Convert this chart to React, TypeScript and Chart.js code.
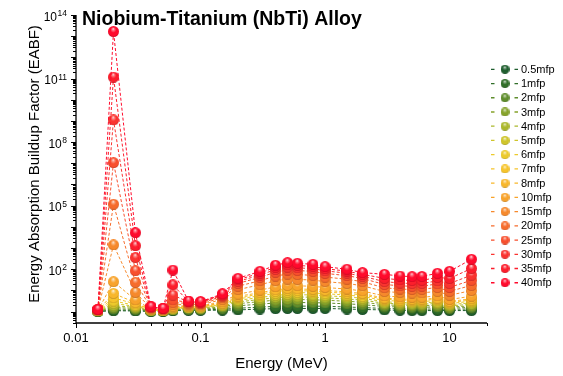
import React, { useEffect, useRef } from 'react';
import { Chart, registerables } from 'chart.js';

Chart.register(...registerables);

const WIDTH = 563;
const HEIGHT = 376;
const FONT = "'Liberation Sans', Arial, sans-serif";

// Photon energies (MeV)
const energies = [0.015, 0.02, 0.03, 0.04, 0.05, 0.06, 0.08, 0.1, 0.15, 0.2, 0.3, 0.4, 0.5, 0.6, 0.8, 1, 1.5, 2, 3, 4, 5, 6, 8, 10, 15];

const seriesNames = ['0.5mfp', '1mfp', '2mfp', '3mfp', '4mfp', '5mfp', '6mfp', '7mfp', '8mfp', '10mfp', '15mfp', '20mfp', '25mfp', '30mfp', '35mfp', '40mfp'];

const seriesColors = [
  '#1f5e2e', '#316e29', '#5f8d2c', '#86a32b', '#abb82c', '#cfc52b', '#ecca2c', '#f6c42b',
  '#f8b72b', '#f8a32b', '#f6892c', '#f66c2c', '#f84f2d', '#fa3430', '#fc1e2c', '#ff0a2c',
];

// Energy absorption buildup factors, one array per penetration depth
const eabf0_5 = [1.02, 1.10, 1.07, 1.02, 1.02, 1.10, 1.15, 1.15, 1.17, 1.20, 1.32, 1.38, 1.41, 1.41, 1.41, 1.41, 1.32, 1.26, 1.20, 1.15, 1.12, 1.12, 1.12, 1.12, 1.12];
const eabf1 = [1.03, 1.17, 1.15, 1.05, 1.04, 1.15, 1.21, 1.20, 1.29, 1.44, 1.63, 1.77, 1.83, 1.82, 1.81, 1.79, 1.65, 1.55, 1.41, 1.34, 1.31, 1.31, 1.32, 1.28, 1.33];
const eabf2 = [1.05, 1.35, 1.26, 1.09, 1.07, 1.20, 1.31, 1.30, 1.48, 1.88, 2.25, 2.56, 2.71, 2.69, 2.64, 2.56, 2.32, 2.13, 1.74, 1.64, 1.60, 1.61, 1.66, 1.45, 1.57];
const eabf3 = [1.07, 1.58, 1.41, 1.13, 1.09, 1.26, 1.40, 1.38, 1.67, 2.37, 2.96, 3.50, 3.77, 3.72, 3.63, 3.45, 3.09, 2.77, 2.10, 1.96, 1.91, 1.92, 2.01, 1.65, 1.85];
const eabf4 = [1.08, 1.90, 1.58, 1.16, 1.11, 1.32, 1.49, 1.46, 1.85, 2.87, 3.73, 4.58, 5.00, 4.91, 4.76, 4.47, 3.96, 3.48, 2.48, 2.31, 2.23, 2.25, 2.39, 1.87, 2.19];
const eabf5 = [1.09, 2.40, 1.78, 1.19, 1.13, 1.38, 1.56, 1.53, 2.02, 3.42, 4.60, 5.82, 6.44, 6.31, 6.08, 5.64, 4.93, 4.28, 2.90, 2.69, 2.60, 2.62, 2.82, 2.13, 2.59];
const eabf6 = [1.10, 3.16, 2.00, 1.22, 1.15, 1.45, 1.64, 1.60, 2.19, 4.02, 5.58, 7.28, 8.13, 7.94, 7.62, 6.97, 6.05, 5.15, 3.37, 3.10, 2.99, 3.01, 3.30, 2.42, 3.06];
const eabf7 = [1.11, 4.47, 2.29, 1.25, 1.16, 1.51, 1.71, 1.67, 2.36, 4.65, 6.62, 8.87, 10.0, 9.75, 9.33, 8.43, 7.26, 6.11, 3.84, 3.52, 3.39, 3.41, 3.78, 2.69, 3.52];
const eabf8 = [1.12, 7.24, 2.63, 1.27, 1.17, 1.58, 1.78, 1.73, 2.53, 5.30, 7.74, 10.6, 12.1, 11.7, 11.2, 10.0, 8.55, 7.11, 4.32, 3.94, 3.80, 3.83, 4.30, 2.99, 4.05];
const eabf10 = [1.14, 25.7, 3.55, 1.32, 1.20, 1.74, 1.91, 1.85, 2.86, 6.73, 10.3, 14.8, 17.1, 16.6, 15.6, 13.8, 11.6, 9.40, 5.46, 4.93, 4.74, 4.78, 5.47, 3.70, 5.35];
const eabf15 = [1.17, 1410, 8.13, 1.42, 1.26, 2.09, 2.20, 2.11, 3.67, 10.9, 18.4, 28.7, 34.6, 33.1, 30.7, 26.1, 21.3, 16.6, 8.89, 7.91, 7.53, 7.60, 9.12, 5.92, 9.86];
const eabf20 = [1.20, 1.17e5, 24.0, 1.50, 1.30, 2.63, 2.45, 2.33, 4.45, 15.8, 28.6, 47.9, 59.2, 56.2, 51.5, 42.6, 34.0, 25.5, 13.3, 11.6, 11.1, 11.2, 13.9, 9.06, 17.2];
const eabf25 = [1.22, 1.07e7, 85.1, 1.57, 1.34, 3.55, 2.69, 2.54, 5.21, 21.5, 41.2, 72.8, 92.0, 86.9, 78.9, 63.8, 50.0, 36.5, 19.1, 16.5, 15.6, 15.8, 20.3, 13.9, 30.1];
const eabf30 = [1.23, 1.12e9, 355, 1.61, 1.37, 6.03, 2.86, 2.69, 5.81, 26.4, 53.0, 97.0, 125, 117, 106, 84.1, 65.2, 46.6, 26.1, 22.4, 21.1, 21.4, 28.2, 21.2, 52.5];
const eabf35 = [1.25, 1.17e11, 1290, 1.66, 1.39, 18.2, 3.01, 2.82, 6.37, 31.6, 65.5, 124, 161, 151, 136, 106, 81.7, 57.3, 37.2, 31.4, 29.4, 29.9, 40.8, 36.9, 108];
const eabf40 = [1.26, 1.66e13, 5250, 1.70, 1.41, 91.2, 3.16, 2.95, 6.92, 37.2, 79.4, 155, 204, 191, 170, 132, 100, 69.2, 57.5, 47.9, 44.7, 45.7, 64.6, 79.4, 295];

const seriesValues = [eabf0_5, eabf1, eabf2, eabf3, eabf4, eabf5, eabf6, eabf7, eabf8, eabf10, eabf15, eabf20, eabf25, eabf30, eabf35, eabf40];

const xTickValues = [0.01, 0.1, 1, 10];
const xTickLabels = ['0.01', '0.1', '1', '10'];
const yLabelExponents = [2, 5, 8, 11, 14];

const X_MIN = 0.01;
const X_MAX = 20;
const Y_MIN = 0.29;
const Y_MAX = 1e14;

function mix(hex: string, target: number, t: number): string {
  const n = parseInt(hex.slice(1), 16);
  const r = (n >> 16) & 255;
  const g = (n >> 8) & 255;
  const b = n & 255;
  const f = (v: number) => Math.round(v + (target - v) * t);
  return `rgb(${f(r)},${f(g)},${f(b)})`;
}

// Glossy ball used as the marker of each series
function makeSphere(color: string, d: number): HTMLCanvasElement {
  const c = document.createElement('canvas');
  c.width = d;
  c.height = d;
  const g = c.getContext('2d')!;
  const r = d / 2;
  const grad = g.createRadialGradient(r * 0.95, r * 0.5, 0, r, r * 0.9, r * 1.05);
  grad.addColorStop(0, mix(color, 255, 0.9));
  grad.addColorStop(0.22, mix(color, 255, 0.4));
  grad.addColorStop(0.5, color);
  grad.addColorStop(0.85, color);
  grad.addColorStop(1, mix(color, 0, 0.18));
  g.fillStyle = grad;
  g.beginPath();
  g.arc(r, r, r, 0, Math.PI * 2);
  g.fill();
  return c;
}

let legendSpheres: HTMLCanvasElement[] = [];

const decorations = {
  id: 'decorations',
  afterDatasetsDraw(chart: any) {
    const { ctx, chartArea: a, scales } = chart;
    const xs = scales.x;
    const ys = scales.y;
    ctx.save();
    ctx.strokeStyle = '#000';
    ctx.fillStyle = '#000';
    ctx.lineWidth = 1.3;

    // axis lines
    ctx.beginPath();
    ctx.moveTo(a.left, a.top);
    ctx.lineTo(a.left, a.bottom);
    ctx.lineTo(a.right, a.bottom);
    ctx.stroke();

    // y ticks (decades + minor)
    ctx.lineWidth = 1;
    for (let k = -1; k <= 14; k++) {
      for (let m = 1; m <= 9; m++) {
        const v = m * Math.pow(10, k);
        if (v < Y_MIN * 0.999 || v > Y_MAX * 1.001) continue;
        const py = Math.round(ys.getPixelForValue(v)) + 0.5;
        const len = m === 1 ? 5 : 3;
        ctx.beginPath();
        ctx.moveTo(a.left, py);
        ctx.lineTo(a.left - len, py);
        ctx.stroke();
      }
    }
    // x ticks
    for (let k = -2; k <= 1; k++) {
      for (let m = 1; m <= 9; m++) {
        const v = m * Math.pow(10, k);
        if (v < X_MIN * 0.999 || v > X_MAX * 1.001) continue;
        const px = Math.round(xs.getPixelForValue(v)) + 0.5;
        const len = m === 1 ? 5 : 3;
        ctx.beginPath();
        ctx.moveTo(px, a.bottom);
        ctx.lineTo(px, a.bottom + len);
        ctx.stroke();
      }
    }

    // x tick labels
    ctx.font = `13px ${FONT}`;
    ctx.textAlign = 'center';
    ctx.textBaseline = 'alphabetic';
    xTickValues.forEach((v, i) => {
      ctx.fillText(xTickLabels[i], xs.getPixelForValue(v), a.bottom + 19);
    });

    // y tick labels as 10 with superscript exponent
    yLabelExponents.forEach((e) => {
      const py = ys.getPixelForValue(Math.pow(10, e));
      const exp = String(e);
      ctx.font = `8.5px ${FONT}`;
      const ew = ctx.measureText(exp).width;
      const ex = a.left - 9 - ew;
      ctx.textAlign = 'left';
      ctx.fillText(exp, ex, py + 1);
      ctx.font = `12px ${FONT}`;
      ctx.textAlign = 'right';
      ctx.fillText('10', ex - 0.5, py + 5.5);
    });

    // axis titles
    ctx.font = `15px ${FONT}`;
    ctx.textAlign = 'center';
    ctx.fillText('Energy (MeV)', (a.left + a.right) / 2, 368);
    ctx.save();
    ctx.translate(39, 164);
    ctx.rotate(-Math.PI / 2);
    ctx.fillText('Energy Absorption Buildup Factor (EABF)', 0, 0);
    ctx.restore();

    // chart title
    ctx.font = `bold 19.5px ${FONT}`;
    ctx.textAlign = 'left';
    ctx.fillText('Niobium-Titanium (NbTi) Alloy', 82, 25);

    // legend
    ctx.font = `11px ${FONT}`;
    ctx.textBaseline = 'middle';
    seriesNames.forEach((name, i) => {
      const y = 69.3 + i * 14.23;
      const col = seriesColors[i];
      ctx.strokeStyle = col;
      ctx.lineWidth = 1.3;
      ctx.beginPath();
      ctx.moveTo(491, y);
      ctx.lineTo(494.5, y);
      ctx.moveTo(514.5, y);
      ctx.lineTo(518, y);
      ctx.stroke();
      const s = legendSpheres[i];
      ctx.drawImage(s, 505 - s.width / 2, y - s.height / 2);
      ctx.fillStyle = '#000';
      ctx.fillText(name, 521, y + 0.5);
    });
    ctx.restore();
  },
};

export default function App() {
  const canvasRef = useRef<HTMLCanvasElement | null>(null);

  useEffect(() => {
    document.body.style.margin = '0';
    document.body.style.background = '#ffffff';
    const canvas = canvasRef.current;
    if (!canvas) return;
    legendSpheres = seriesColors.map((c) => makeSphere(c, 9));
    const n = seriesValues.length;
    const chart = new Chart(canvas, {
      type: 'scatter',
      data: {
        datasets: seriesValues.map((vals, i) => ({
          label: seriesNames[i],
          data: energies.map((e, j) => ({ x: e, y: vals[j] })),
          borderColor: seriesColors[i],
          backgroundColor: seriesColors[i],
          borderWidth: 1,
          borderDash: [3, 2],
          showLine: true,
          pointStyle: makeSphere(seriesColors[i], 11),
          pointRadius: 5.5,
          order: n - 1 - i,
          clip: false as any,
        })),
      },
      options: {
        animation: false,
        responsive: false,
        devicePixelRatio: 1,
        layout: { padding: { left: 0, right: 76, top: 15, bottom: 0 } },
        plugins: {
          legend: { display: false },
          title: { display: false },
          tooltip: { enabled: false },
        },
        events: [],
        scales: {
          x: {
            type: 'logarithmic',
            min: X_MIN,
            max: X_MAX,
            ticks: { display: false },
            grid: { display: false },
            border: { display: false },
            afterFit: (s: any) => {
              s.height = 53;
            },
          },
          y: {
            type: 'logarithmic',
            min: Y_MIN,
            max: Y_MAX,
            ticks: { display: false },
            grid: { display: false },
            border: { display: false },
            afterFit: (s: any) => {
              s.width = 76;
            },
          },
        },
      },
      plugins: [decorations],
    });
    return () => chart.destroy();
  }, []);

  return (
    <div style={{ width: WIDTH, height: HEIGHT, background: '#fff' }}>
      <canvas ref={canvasRef} width={WIDTH} height={HEIGHT} style={{ display: 'block' }} />
    </div>
  );
}
